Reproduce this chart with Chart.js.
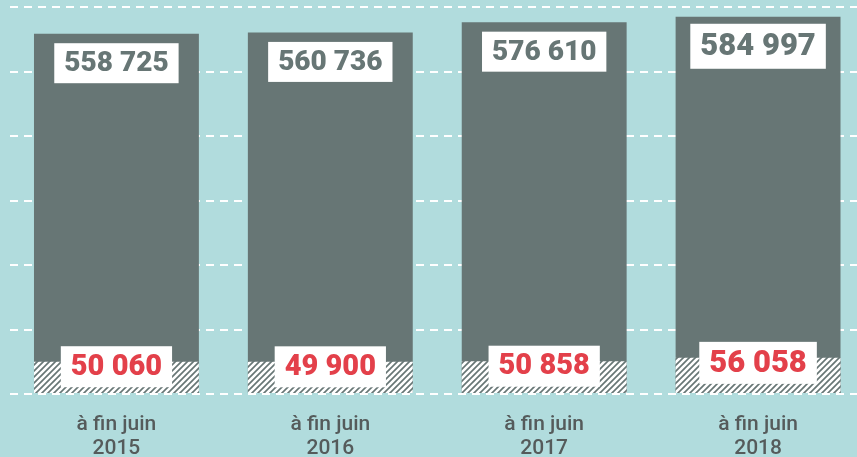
<!DOCTYPE html>
<html>
<head>
<meta charset="utf-8">
<script src="https://cdn.jsdelivr.net/npm/chart.js@4"></script>
<style>
  html, body { margin: 0; padding: 0; background: #b1dcdd; overflow: hidden; }
  #wrap { width: 865px; height: 457px; }
</style>
</head>
<body>
<div id="wrap"><canvas id="chart"></canvas></div>
<script>
// données
const categories = [["à fin juin", "2015"], ["à fin juin", "2016"], ["à fin juin", "2017"], ["à fin juin", "2018"]];
const totalValues = [558725, 560736, 576610, 584997];
const hatchValues = [50060, 49900, 50858, 56058];
const gridTicks = [0, 100000, 200000, 300000, 400000, 500000, 600000];

const barColor = "#677675";
const redColor = "#e3404a";

function fmt(n) {
    return String(n).replace(/\B(?=(\d{3})+(?!\d))/g, " ");
}

// motif hachuré ////
function makeHatch() {
    const c = document.createElement("canvas");
    c.width = 6; c.height = 6;
    const g = c.getContext("2d");
    g.fillStyle = barColor;
    g.fillRect(0, 0, 6, 6);
    g.strokeStyle = "#ffffff";
    g.lineWidth = 2.6;
    g.beginPath();
    g.moveTo(-1, 7); g.lineTo(7, -1);
    g.moveTo(-4, 4); g.lineTo(4, -4);
    g.moveTo(2, 10); g.lineTo(10, 2);
    g.stroke();
    return g.createPattern(c, "repeat");
}

const labelBoxes = {
    id: "labelBoxes",
    afterDatasetsDraw(chart) {
        const ctx = chart.ctx;
        const hatchMeta = chart.getDatasetMeta(0);
        const totalMeta = chart.getDatasetMeta(1);
        ctx.save();
        ctx.textAlign = "center";
        ctx.textBaseline = "middle";
        totalMeta.data.forEach((bar, i) => {
            const big = i === totalValues.length - 1;
            const size = big ? 31 : 28;
            const h = big ? 45 : 40;

            // valeur totale
            ctx.font = "900 " + size + "px Roboto";
            let txt = fmt(totalValues[i]);
            let w = ctx.measureText(txt).width + 20;
            let cy = bar.y + 29.5;
            ctx.fillStyle = "#ffffff";
            ctx.fillRect(bar.x - w / 2, cy - h / 2, w, h);
            ctx.fillStyle = barColor;
            ctx.fillText(txt, bar.x, cy + 1);

            // valeur hachurée
            const hb = hatchMeta.data[i];
            const hs = big ? 31 : 29;
            const hh = big ? 42 : 41;
            ctx.font = "900 " + hs + "px Roboto";
            txt = fmt(hatchValues[i]);
            w = ctx.measureText(txt).width + 20;
            cy = hb.y + 5;
            ctx.fillStyle = "#ffffff";
            ctx.fillRect(hb.x - w / 2, cy - hh / 2, w, hh);
            ctx.fillStyle = redColor;
            ctx.fillText(txt, hb.x, cy + 1);
        });
        ctx.restore();
    }
};

new Chart(document.getElementById("chart"), {
    type: "bar",
    data: {
        labels: categories,
        datasets: [
            {
                data: hatchValues,
                backgroundColor: makeHatch(),
                order: 1
            },
            {
                data: totalValues,
                backgroundColor: barColor,
                order: 2
            }
        ]
    },
    options: {
        responsive: true,
        maintainAspectRatio: false,
        animation: false,
        layout: { padding: { left: 9.5, right: 0, top: 0, bottom: 0 } },
        datasets: {
            bar: { grouped: false, categoryPercentage: 1, barPercentage: 0.771, borderWidth: 0 }
        },
        plugins: {
            legend: { display: false },
            tooltip: { enabled: false }
        },
        scales: {
            x: {
                grid: { display: false, drawTicks: false },
                border: { display: false },
                ticks: {
                    color: "#555b5b",
                    padding: 19,
                    font: { family: "Roboto", size: 21, weight: "500", lineHeight: 1.15 }
                },
                afterFit(scale) { scale.height = 63; }
            },
            y: {
                min: 0,
                max: 611000,
                grid: { color: "#ffffff", lineWidth: 2, drawTicks: false },
                border: { display: false, dash: [8, 6] },
                ticks: { display: false },
                afterBuildTicks(scale) {
                    scale.ticks = gridTicks.map(v => ({ value: v }));
                }
            }
        }
    },
    plugins: [labelBoxes]
});
</script>
</body>
</html>
